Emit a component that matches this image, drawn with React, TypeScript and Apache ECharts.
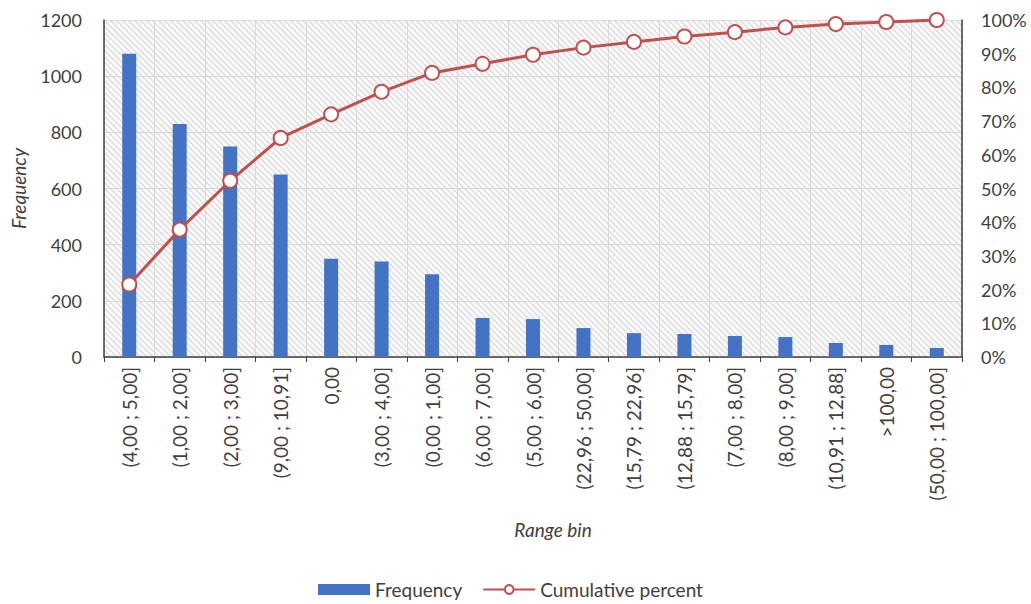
import React, { useEffect, useRef } from 'react';
import * as echarts from 'echarts';

const categories = [
  '(4,00 ; 5,00]', '(1,00 ; 2,00]', '(2,00 ; 3,00]', '(9,00 ; 10,91]', '0,00',
  '(3,00 ; 4,00]', '(0,00 ; 1,00]', '(6,00 ; 7,00]', '(5,00 ; 6,00]', '(22,96 ; 50,00]',
  '(15,79 ; 22,96]', '(12,88 ; 15,79]', '(7,00 ; 8,00]', '(8,00 ; 9,00]', '(10,91 ; 12,88]',
  '>100,00', '(50,00 ; 100,00]',
];
const frequency = [1080, 830, 750, 650, 350, 340, 295, 139, 135, 103, 85, 82, 75, 71, 50, 43, 32];
const cumulativePercent = [21.5, 37.8, 52.3, 65.0, 72.0, 78.7, 84.3, 87.0, 89.7, 91.8, 93.5, 95.1, 96.4, 97.8, 98.8, 99.4, 100];

const FONT = 'Lato, "Liberation Sans", sans-serif';
const TEXT = '#404040';

function makeHatch() {
  const c = document.createElement('canvas');
  c.width = 6;
  c.height = 6;
  const ctx = c.getContext('2d');
  if (ctx) {
    ctx.fillStyle = '#fafafa';
    ctx.fillRect(0, 0, 6, 6);
    ctx.strokeStyle = '#dddddd';
    ctx.lineWidth = 1.4;
    ctx.beginPath();
    ctx.moveTo(-1, -1); ctx.lineTo(7, 7);
    ctx.moveTo(-1, 5); ctx.lineTo(1, 7);
    ctx.moveTo(5, -1); ctx.lineTo(7, 1);
    ctx.stroke();
  }
  return c;
}

export default function App() {
  const ref = useRef<HTMLDivElement>(null);
  useEffect(() => {
    document.body.style.margin = '0';
    if (!ref.current) return;
    const chart = echarts.init(ref.current, null, { renderer: 'svg' });
    const hatch = makeHatch();
    chart.setOption({
      animation: false,
      textStyle: { fontFamily: FONT, color: TEXT },
      grid: {
        left: 104, right: 69, top: 20, bottom: 247,
        show: true,
        borderWidth: 0,
        backgroundColor: { image: hatch, repeat: 'repeat', imageWidth: 6, imageHeight: 6 } as any,
      },
      legend: {
        left: 318, top: 580,
        padding: 0,
        itemWidth: 52, itemHeight: 11, itemGap: 20,
        textStyle: { fontFamily: FONT, fontSize: 19, color: TEXT },
        data: [
          { name: 'Frequency', icon: 'rect' },
          { name: 'Cumulative percent' },
        ],
      },
      xAxis: {
        type: 'category',
        data: categories,
        name: 'Range bin',
        nameLocation: 'middle',
        nameGap: 163,
        nameTextStyle: { fontFamily: FONT, fontSize: 19, fontStyle: 'italic', color: TEXT, padding: [0, 0, 0, 40] },
        axisLine: { lineStyle: { color: '#404040', width: 1.5 } },
        axisTick: { show: true, length: 5, lineStyle: { color: '#404040' } },
        axisLabel: { interval: 0, rotate: 90, margin: 10, fontSize: 19, color: TEXT, fontFamily: FONT },
        splitLine: { show: true, interval: 0, lineStyle: { color: '#d9d9d9', width: 1 } },
      },
      yAxis: [
        {
          type: 'value',
          min: 0, max: 1200, interval: 200,
          name: 'Frequency',
          nameLocation: 'middle',
          nameGap: 76,
          nameTextStyle: { fontFamily: FONT, fontSize: 19, fontStyle: 'italic', color: TEXT },
          axisLine: { show: true, lineStyle: { color: '#404040', width: 1.5 } },
          axisTick: { show: false },
          axisLabel: { fontSize: 18, color: TEXT, fontFamily: FONT, margin: 22, formatter: (v: number) => String(v) },
          splitLine: { show: true, lineStyle: { color: '#d9d9d9', width: 1 } },
        },
        {
          type: 'value',
          min: 0, max: 100, interval: 10,
          position: 'right',
          axisLine: { show: true, lineStyle: { color: '#404040', width: 1.5 } },
          axisTick: { show: false },
          axisLabel: { fontSize: 18, color: TEXT, fontFamily: FONT, margin: 19, formatter: '{value}%' },
          splitLine: { show: false },
        },
      ],
      series: [
        {
          name: 'Frequency',
          type: 'bar',
          data: frequency,
          barWidth: 14,
          itemStyle: { color: '#4472C4' },
        },
        {
          name: 'Cumulative percent',
          type: 'line',
          yAxisIndex: 1,
          data: cumulativePercent,
          symbol: 'circle',
          symbolSize: 14,
          lineStyle: { color: '#c0504d', width: 3 },
          itemStyle: { color: '#ffffff', borderColor: '#c0504d', borderWidth: 2 },
          z: 3,
        },
      ],
    });
    return () => chart.dispose();
  }, []);
  return <div ref={ref} style={{ width: 1031, height: 604 }} />;
}
